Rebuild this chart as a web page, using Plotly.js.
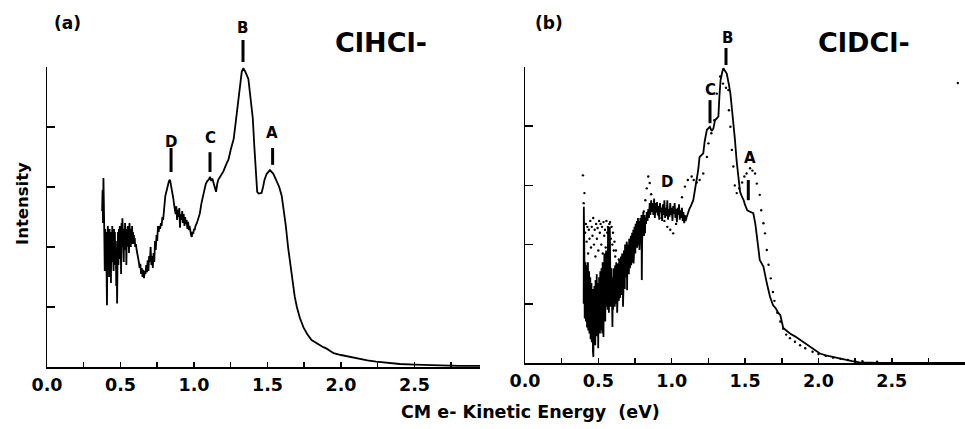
<!DOCTYPE html>
<html>
<head>
<meta charset="utf-8">
<script src="https://cdn.plot.ly/plotly-3.0.1.min.js"></script>
<style>html,body{margin:0;padding:0;background:#fff;}#chart{width:965px;height:429px;}</style>
</head>
<body>
<div id="chart"></div>
<script>
// ---------- Tick labels ----------
const tickVals = [0, 0.5, 1.0, 1.5, 2.0, 2.5];
const tickText = ['0.0', '0.5', '1.0', '1.5', '2.0', '2.5'];

// ---------- Panel (a): ClHCl- photoelectron spectrum ----------
const clhclEnergy = [
0.375,0.378,0.381,0.384,0.387,0.390,0.393,0.396,0.399,0.402,0.405,0.408,0.411,0.414,0.417,0.420,0.423,0.426,0.429,0.432,
0.435,0.438,0.441,0.444,0.447,0.450,0.453,0.456,0.459,0.462,0.465,0.468,0.471,0.474,0.477,0.480,0.483,0.486,0.489,0.492,
0.495,0.498,0.501,0.504,0.507,0.510,0.513,0.516,0.519,0.522,0.525,0.528,0.531,0.534,0.537,0.540,0.543,0.546,0.549,0.552,
0.555,0.558,0.561,0.564,0.567,0.570,0.573,0.576,0.579,0.582,0.585,0.588,0.591,0.594,0.597,0.600,0.605,0.610,0.615,0.620,
0.625,0.630,0.635,0.640,0.645,0.650,0.655,0.660,0.665,0.670,0.675,0.680,0.685,0.690,0.695,0.700,0.705,0.710,0.715,0.720,
0.725,0.730,0.735,0.740,0.745,0.750,0.755,0.760,0.765,0.770,0.775,0.780,0.785,0.790,0.795,0.800,0.805,0.810,0.815,0.820,
0.825,0.830,0.837,0.843,0.850,0.855,0.860,0.865,0.870,0.875,0.880,0.885,0.890,0.895,0.900,0.905,0.910,0.915,0.920,0.925,
0.930,0.935,0.940,0.945,0.950,0.955,0.960,0.965,0.970,0.975,0.980,0.985,0.990,0.995,1.000,1.005,1.010,1.020,1.030,1.040,
1.050,1.063,1.080,1.090,1.100,1.109,1.118,1.125,1.135,1.145,1.150,1.158,1.165,1.180,1.200,1.220,1.235,1.250,1.270,1.285,
1.300,1.315,1.325,1.336,1.350,1.370,1.385,1.400,1.410,1.420,1.430,1.440,1.460,1.470,1.480,1.495,1.517,1.540,1.560,1.580,
1.597,1.610,1.625,1.640,1.655,1.670,1.685,1.700,1.720,1.745,1.770,1.800,1.830,1.857,1.880,1.900,1.925,1.950,2.000,2.040,
2.090,2.130,2.180,2.240,2.320,2.400,2.500,2.630,2.800,2.950];
const clhclIntensity = [
2.60,2.95,2.40,3.15,2.70,2.20,1.60,2.30,1.90,2.25,1.35,1.03,1.90,2.35,1.70,2.20,1.50,2.30,1.85,2.10,
1.40,2.25,1.75,2.35,1.95,2.20,1.60,2.30,1.85,2.25,1.70,2.10,1.35,1.90,1.06,1.80,2.25,1.70,2.30,1.90,
2.35,1.80,2.20,1.55,2.40,2.00,2.48,2.10,2.35,1.75,2.30,1.95,2.40,2.05,2.30,1.70,2.25,2.00,2.35,2.05,
2.30,1.90,2.40,2.10,2.30,2.00,2.30,2.10,2.35,2.05,2.25,2.10,2.20,2.05,2.15,2.00,2.05,1.95,1.90,1.80,
1.75,1.65,1.72,1.55,1.65,1.50,1.62,1.48,1.60,1.55,1.70,1.58,1.78,1.60,1.85,1.75,2.00,1.70,1.85,1.65,
1.90,1.75,2.10,1.95,2.20,2.10,2.35,2.25,2.35,2.30,2.40,2.35,2.50,2.45,2.65,2.75,2.85,2.90,2.95,3.02,
3.05,3.10,3.12,3.05,2.95,2.88,2.80,2.70,2.62,2.55,2.68,2.45,2.62,2.50,2.65,2.32,2.55,2.45,2.60,2.40,
2.55,2.35,2.50,2.38,2.45,2.30,2.42,2.28,2.35,2.25,2.20,2.17,2.25,2.22,2.30,2.28,2.35,2.40,2.48,2.56,
2.72,2.89,3.05,3.10,3.12,3.17,3.10,3.14,3.05,2.95,2.92,3.05,3.12,3.18,3.26,3.38,3.46,3.62,3.80,4.10,
4.45,4.75,4.92,4.98,4.92,4.80,4.50,4.15,3.70,3.25,2.92,2.89,2.90,3.00,3.12,3.22,3.28,3.22,3.12,3.00,
2.85,2.65,2.35,2.00,1.70,1.42,1.18,1.00,0.82,0.66,0.55,0.45,0.40,0.37,0.33,0.31,0.27,0.23,0.20,0.18,
0.15,0.13,0.11,0.09,0.07,0.05,0.04,0.03,0.02,0.02];

// ---------- Panel (b): ClDCl- photoelectron spectrum (solid) ----------
const cldclEnergy = [
0.400,0.401,0.403,0.405,0.407,0.409,0.411,0.413,0.415,0.417,0.419,0.421,0.423,0.425,0.427,0.429,0.431,0.433,0.435,0.437,
0.439,0.441,0.443,0.445,0.447,0.449,0.451,0.453,0.455,0.457,0.459,0.461,0.463,0.466,0.469,0.471,0.473,0.475,0.477,0.479,
0.481,0.483,0.485,0.487,0.489,0.491,0.493,0.495,0.497,0.499,0.501,0.503,0.505,0.507,0.509,0.511,0.513,0.515,0.517,0.519,
0.521,0.523,0.525,0.527,0.529,0.531,0.533,0.535,0.537,0.539,0.541,0.543,0.545,0.547,0.549,0.551,0.553,0.555,0.557,0.559,
0.561,0.563,0.566,0.568,0.570,0.572,0.574,0.576,0.578,0.580,0.582,0.584,0.586,0.588,0.590,0.592,0.594,0.596,0.598,0.600,
0.602,0.604,0.606,0.608,0.610,0.612,0.614,0.616,0.618,0.620,0.622,0.624,0.626,0.628,0.630,0.632,0.634,0.636,0.638,0.640,
0.642,0.644,0.646,0.648,0.650,0.652,0.654,0.656,0.658,0.660,0.662,0.664,0.666,0.668,0.670,0.672,0.674,0.676,0.678,0.680,
0.682,0.684,0.686,0.688,0.690,0.692,0.694,0.696,0.698,0.700,0.702,0.704,0.706,0.708,0.710,0.712,0.714,0.716,0.718,0.720,
0.722,0.724,0.726,0.728,0.730,0.732,0.734,0.736,0.738,0.740,0.742,0.744,0.746,0.748,0.750,0.752,0.754,0.756,0.758,0.760,
0.762,0.764,0.766,0.768,0.770,0.772,0.774,0.776,0.778,0.780,0.782,0.784,0.786,0.788,0.790,0.792,0.794,0.796,0.798,0.800,
0.802,0.804,0.806,0.808,0.810,0.812,0.814,0.816,0.818,0.820,0.825,0.830,0.835,0.840,0.845,0.850,0.855,0.860,0.865,0.870,
0.875,0.880,0.885,0.890,0.895,0.900,0.905,0.910,0.915,0.920,0.925,0.930,0.935,0.940,0.945,0.950,0.955,0.960,0.965,0.970,
0.975,0.980,0.985,0.990,0.995,1.000,1.005,1.010,1.015,1.020,1.025,1.030,1.035,1.040,1.045,1.050,1.055,1.060,1.065,1.070,
1.075,1.080,1.085,1.090,1.095,1.100,1.110,1.120,1.130,1.140,1.147,1.160,1.170,1.180,1.190,1.200,1.215,1.225,1.240,1.260,
1.272,1.284,1.295,1.310,1.318,1.325,1.333,1.345,1.352,1.365,1.375,1.390,1.400,1.410,1.420,1.430,1.443,1.455,1.466,1.480,
1.490,1.500,1.515,1.530,1.556,1.570,1.580,1.590,1.600,1.612,1.625,1.648,1.670,1.690,1.710,1.725,1.740,1.760,1.780,1.806,
1.840,1.875,1.910,1.940,1.975,2.010,2.050,2.100,2.150,2.190,2.230,2.280,2.420,2.700,3.000];
const cldclIntensity = [
1.00,2.64,1.10,1.75,0.75,1.60,0.90,1.70,0.70,1.50,0.85,1.65,0.60,1.45,0.80,1.70,0.55,1.35,0.70,1.55,
0.50,1.30,0.65,1.45,0.40,1.20,0.55,1.35,0.35,1.10,0.45,1.25,0.20,0.10,1.05,0.40,1.30,0.50,1.15,0.30,
1.40,0.60,1.25,0.45,1.50,0.70,1.20,0.40,1.35,0.25,1.10,0.55,1.45,0.65,1.30,0.50,1.55,0.75,1.40,0.55,
1.60,0.80,1.35,0.50,1.70,0.85,1.45,0.44,1.20,0.90,1.85,1.00,1.50,0.70,1.65,1.05,1.90,0.95,1.55,1.10,
1.75,0.90,2.30,1.20,1.60,0.85,1.45,1.10,2.30,1.25,1.55,0.95,1.40,1.10,1.60,0.80,1.35,0.61,1.20,0.90,
1.45,1.05,1.60,1.15,1.50,0.95,1.65,1.25,1.55,1.00,1.70,1.20,1.50,0.85,1.45,1.15,1.68,1.30,1.55,1.05,
1.75,1.35,1.60,1.10,1.68,1.30,1.80,1.45,1.65,1.15,1.85,1.40,1.70,0.95,1.60,1.35,1.90,1.50,1.75,1.25,
2.00,1.55,1.85,1.45,1.95,1.60,2.05,1.23,1.80,1.55,2.00,1.65,1.90,1.50,2.10,1.70,1.95,1.60,2.05,1.75,
2.15,1.65,2.00,1.80,2.20,1.70,2.10,1.85,2.25,1.68,2.05,1.90,2.30,1.95,2.20,1.85,2.35,2.00,2.25,2.02,
2.40,1.95,2.30,2.05,2.45,2.10,2.35,2.00,2.40,1.91,2.30,2.10,2.45,2.15,2.35,2.05,2.50,1.40,2.00,2.20,
2.45,2.25,2.55,2.20,2.40,2.15,2.50,2.25,2.19,2.45,2.35,2.55,2.40,2.60,2.45,2.70,2.50,2.75,2.55,2.70,
2.50,2.78,2.45,2.70,2.55,2.72,2.50,2.65,2.42,2.70,2.55,2.62,2.40,2.68,2.50,2.75,2.45,2.62,2.48,2.75,
2.42,2.60,2.47,2.70,2.50,2.62,2.40,2.65,2.52,2.70,2.45,2.60,2.38,2.62,2.50,2.68,2.42,2.58,2.45,2.62,
2.40,2.55,2.36,2.50,2.40,2.45,2.55,2.60,2.65,2.70,2.75,2.95,3.09,3.25,3.48,3.50,3.54,3.75,3.94,3.99,
3.92,3.96,4.10,4.14,4.16,4.50,4.78,4.92,4.98,4.93,4.89,4.70,4.55,4.30,4.10,3.80,3.40,3.10,2.89,2.80,
2.75,2.67,2.58,2.56,2.53,2.35,2.19,1.95,1.74,1.68,1.63,1.35,1.12,0.98,0.92,0.85,0.81,0.59,0.55,0.50,
0.45,0.39,0.33,0.28,0.22,0.16,0.13,0.10,0.07,0.05,0.03,0.01,0.00,0.00,0.00];

// ---------- Panel (b): comparison spectrum (dotted points) ----------
const compEnergy = [
0.395,0.400,0.405,0.410,0.415,0.420,0.425,0.430,0.435,0.440,0.445,0.450,0.455,0.460,0.465,0.470,0.475,0.480,0.485,0.490,
0.495,0.500,0.505,0.510,0.515,0.520,0.525,0.530,0.535,0.540,0.545,0.550,0.555,0.560,0.565,0.570,0.575,0.580,0.585,0.590,
0.595,0.600,0.605,0.610,0.615,0.620,0.630,0.640,0.650,0.660,0.670,0.680,0.690,0.700,0.710,0.720,0.730,0.740,0.750,0.770,
0.790,0.810,0.820,0.830,0.840,0.850,0.860,0.875,0.890,0.910,0.930,0.950,0.970,0.990,1.010,1.030,1.050,1.070,1.090,1.110,
1.136,1.150,1.170,1.190,1.215,1.240,1.250,1.270,1.290,1.307,1.330,1.350,1.370,1.386,1.390,1.400,1.410,1.420,1.430,1.443,
1.460,1.480,1.495,1.510,1.534,1.550,1.568,1.580,1.600,1.610,1.625,1.636,1.648,1.660,1.675,1.690,1.700,1.720,1.740,1.760,
1.780,1.806,1.840,1.875,1.910,1.960,2.000,2.050,2.100,2.150,2.200,2.250,2.300,2.400,2.500,2.950];
const compIntensity = [
3.17,2.70,2.87,2.20,2.35,2.05,2.30,1.85,2.25,2.10,2.40,1.95,2.30,2.15,2.45,2.00,2.25,1.80,2.35,2.10,
2.28,1.90,2.40,2.20,2.35,2.00,2.30,1.85,2.38,2.15,2.25,1.95,2.40,2.20,2.30,2.00,2.35,2.38,2.10,2.30,
2.00,2.20,1.90,2.05,1.80,1.90,1.65,1.75,1.60,1.70,1.62,1.80,1.70,1.85,1.95,1.91,2.05,2.13,2.20,2.27,
2.35,2.56,2.75,2.95,3.15,3.04,2.85,2.65,2.55,2.50,2.45,2.40,2.30,2.25,2.19,2.35,2.55,2.80,2.98,3.09,
3.15,3.09,3.05,3.09,3.20,3.48,3.71,3.88,4.10,4.55,4.84,4.72,4.65,4.61,4.27,3.99,3.60,3.32,3.00,2.87,
2.95,3.05,3.15,3.20,3.29,3.25,3.20,3.03,2.84,2.58,2.36,2.19,1.91,1.66,1.43,1.20,1.05,0.85,0.70,0.58,
0.48,0.42,0.36,0.30,0.25,0.19,0.15,0.12,0.09,0.07,0.05,0.04,0.03,0.02,0.01,4.73];

// ---------- Peak labels (D, C, A inside the axes; B above the axes) ----------
const peakNames = ['D', 'C', 'A'];
const peaksA = [0.844, 1.109, 1.535];
const peaksB = [0.968, 1.261, 1.522];

const FONT = 'DejaVu Sans, Arial, sans-serif';
const black = '#000';

const traces = [
  {x: clhclEnergy, y: clhclIntensity, type: 'scatter', mode: 'lines', name: 'ClHCl-',
   line: {color: black, width: 1.8}, xaxis: 'x', yaxis: 'y', hoverinfo: 'skip'},
  {x: compEnergy, y: compIntensity, type: 'scatter', mode: 'markers', name: 'comparison',
   marker: {color: black, size: 2.4}, xaxis: 'x2', yaxis: 'y2', hoverinfo: 'skip'},
  {x: cldclEnergy, y: cldclIntensity, type: 'scatter', mode: 'lines', name: 'ClDCl-',
   line: {color: black, width: 1.8}, xaxis: 'x2', yaxis: 'y2', hoverinfo: 'skip'}
];

function xAxis(domain, range) {
  return {
    domain: domain, range: range, showgrid: false, zeroline: false,
    showline: true, linecolor: black, linewidth: 2,
    tickmode: 'array', tickvals: tickVals, ticktext: tickText,
    ticks: 'inside', ticklen: 5, tickwidth: 1.5, tickcolor: black,
    minor: {dtick: 0.25, ticks: 'inside', ticklen: 5, tickwidth: 1.5, tickcolor: black},
    tickfont: {family: FONT, size: 17.5, color: black, weight: 'bold'},
    ticklabelstandoff: 1, fixedrange: true
  };
}
function yAxis(domain, anchor) {
  return {
    domain: domain, range: [0, 5], anchor: anchor, showgrid: false, zeroline: false,
    showline: true, linecolor: black, linewidth: 1.5,
    dtick: 1, tick0: 0, ticks: 'inside', ticklen: 8, tickwidth: 1.5, tickcolor: black,
    showticklabels: false, fixedrange: true
  };
}

const H = 429, W = 965;
const px = v => v / W;
const py = v => (H - v) / H;

const annotations = [];
const shapes = [];
const labelXA = [0.844, 1.109, 1.530];
const labelYA = [3.75, 3.82, 3.90];
const barA = [[3.25, 3.65], [3.25, 3.58], [3.37, 3.65]];
const labelXB = [0.968, 1.261, 1.534];
const labelYB = [3.06, 4.61, 3.46];
const barB = [null, [4.05, 4.44], [2.75, 3.09]];

function letter(xref, yref, x, y, n) {
  return {xref: xref, yref: yref, x: x, y: y, text: '<b>' + n + '</b>', showarrow: false,
    xanchor: 'center', yanchor: 'middle', font: {family: FONT, size: 15, color: black}};
}
function bar(xref, yref, x, y0, y1) {
  return {type: 'line', xref: xref, yref: yref, x0: x, x1: x, y0: y0, y1: y1,
    line: {color: black, width: 3}};
}

peakNames.forEach((n, i) => {
  annotations.push(letter('x', 'y', labelXA[i], labelYA[i], n));
  shapes.push(bar('x', 'y', peaksA[i], barA[i][0], barA[i][1]));
  annotations.push(letter('x2', 'y2', labelXB[i], labelYB[i], n));
  if (barB[i]) shapes.push(bar('x2', 'y2', peaksB[i], barB[i][0], barB[i][1]));
});
// Peak B sits above the top of each axis, so it is placed on the page
annotations.push(letter('paper', 'paper', px(243), py(28), 'B'));
shapes.push(bar('paper', 'paper', px(243), py(62), py(40)));
annotations.push(letter('paper', 'paper', px(727), py(38), 'B'));
shapes.push(bar('paper', 'paper', px(726), py(65), py(48)));

function pageText(x, y, text, size, angle) {
  return {xref: 'paper', yref: 'paper', x: px(x), y: py(y), text: '<b>' + text + '</b>',
    showarrow: false, xanchor: 'center', yanchor: 'middle', textangle: angle || 0,
    font: {family: FONT, size: size, color: black}};
}
annotations.push(
  pageText(67, 23, '(a)', 17),
  pageText(549, 23, '(b)', 17),
  pageText(381, 42, 'ClHCl-', 27),
  pageText(864, 42, 'ClDCl-', 27),
  pageText(22, 204, 'Intensity', 16.5, -90),
  pageText(530, 412, 'CM e- Kinetic Energy  (eV)', 17.5)
);

const layout = {
  width: W, height: H,
  margin: {l: 0, r: 0, t: 0, b: 0, pad: 0},
  paper_bgcolor: '#fff', plot_bgcolor: 'rgba(0,0,0,0)',
  showlegend: false,
  xaxis: Object.assign(xAxis([px(47), px(480)], [0, 2.946]), {anchor: 'y'}),
  yaxis: yAxis([py(367), py(67)], 'x'),
  xaxis2: Object.assign(xAxis([px(525), 1], [0, 2.999]), {anchor: 'y2'}),
  yaxis2: yAxis([py(363), py(67)], 'x2'),
  annotations: annotations,
  shapes: shapes
};

Plotly.newPlot('chart', traces, layout, {displayModeBar: false, staticPlot: true});
</script>
</body>
</html>
